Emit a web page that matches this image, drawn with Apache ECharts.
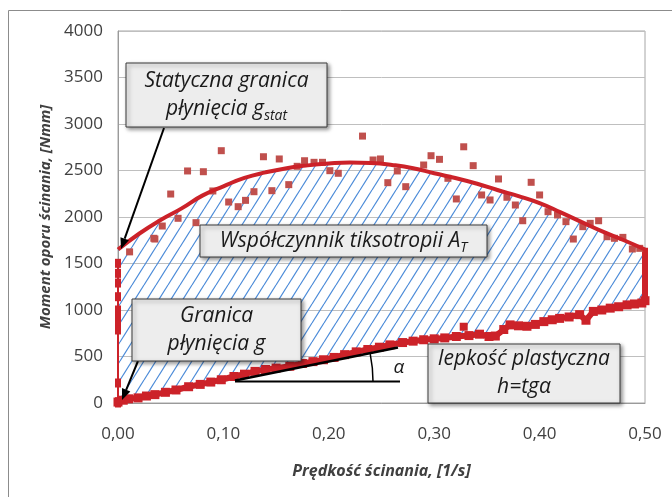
<!DOCTYPE html>
<html><head><meta charset="utf-8">
<script src="https://cdn.jsdelivr.net/npm/echarts@6/dist/echarts.min.js"></script>
<style>html,body{margin:0;padding:0;background:#fff}#c{width:672px;height:497px}</style>
</head><body><div id="c"></div>
<script>
// ---- data ----
const xTicks = [0, 0.1, 0.2, 0.3, 0.4, 0.5];
const yTicks = [0, 500, 1000, 1500, 2000, 2500, 3000, 3500, 4000];
const upperFitX = [0,0.02,0.04,0.06,0.08,0.10,0.12,0.14,0.16,0.18,0.20,0.22,0.24,0.26,0.28,0.30,0.32,0.34,0.36,0.38,0.40,0.42,0.44,0.46,0.48,0.50];
const upperFitY = [1650,1820,1965,2090,2230,2330,2420,2480,2525,2555,2575,2585,2580,2560,2525,2470,2420,2360,2290,2225,2150,2050,1945,1842,1750,1650];
const upperPtsX = [0.011,0.034,0.035,0.042,0.050,0.057,0.066,0.074,0.081,0.090,0.098,0.105,0.114,0.121,0.129,0.138,0.146,0.153,0.162,0.170,0.177,0.186,0.194,0.201,0.209,0.232,0.242,0.249,0.256,0.265,0.273,0.290,0.297,0.305,0.313,0.321,0.328,0.337,0.345,0.353,0.361,0.369,0.377,0.384,0.392,0.400,0.408,0.417,0.425,0.432,0.441,0.448,0.456,0.464,0.471,0.479,0.488,0.495];
const upperPtsY = [1625,1771,1763,1903,2247,1986,2495,1939,2487,2280,2713,2161,2111,2179,2272,2648,2283,2624,2348,2545,2605,2588,2588,2498,2470,2870,2613,2624,2369,2495,2326,2559,2659,2620,2416,2194,2755,2552,2237,2183,2409,2212,2129,1960,2373,2237,2057,2022,1950,1763,1896,1932,1960,1788,1771,1781,1656,1663];
const lowerX = [0.000,0.005,0.010,0.019,0.027,0.035,0.045,0.055,0.067,0.078,0.088,0.098,0.110,0.120,0.130,0.140,0.150,0.163,0.175,0.185,0.195,0.205,0.215,0.226,0.237,0.248,0.258,0.270,0.280,0.290,0.300,0.310,0.321,0.333,0.343,0.352,0.358,0.366,0.372,0.380,0.388,0.396,0.404,0.412,0.419,0.428,0.438,0.444,0.451,0.459,0.467,0.475,0.483,0.490,0.497,0.500];
const lowerY = [10,30,45,55,75,90,115,140,175,200,225,250,285,310,340,360,375,395,425,445,465,490,520,550,575,600,625,650,665,680,690,700,715,725,740,715,720,790,840,830,825,845,875,895,910,925,950,890,985,1000,1020,1035,1055,1065,1075,1100];
const outlierLower = [[0.328, 820]];
const leftEdgeY = [0, 14, 215, 785, 830, 880, 935, 1000, 1143, 1290, 1394, 1502];
const rightEdgeY = [1100, 1200, 1300, 1400, 1500, 1600, 1670];

const RED = '#cc2229', DOT = '#c0504d', TXT = '#404040';
const FONT = '"Open Sans", sans-serif';

// hatch pattern
const pc = document.createElement('canvas');
pc.width = 12; pc.height = 19;
const g = pc.getContext('2d');
g.strokeStyle = '#4a8ad8'; g.lineWidth = 1.2;
for (const o of [-12, 0, 12]) { g.beginPath(); g.moveTo(o, 19); g.lineTo(o + 12, 0); g.stroke(); }

const chart = echarts.init(document.getElementById('c'), null, {renderer: 'canvas'});

const upperFit = upperFitX.map((x, i) => [x, upperFitY[i]]);
const upperPts = upperPtsX.map((x, i) => [x, upperPtsY[i]]);
const lowerPts = lowerX.map((x, i) => [x, lowerY[i]]);

const BOXFONT = 'italic 21px ' + FONT;
function box(x, y, w, h, text, lh) {
  return [
      {type: 'rect', z: 100, shape: {x: x, y: y, width: w, height: h},
       style: {fill: '#ededed', stroke: '#3a3a3a', lineWidth: 1, shadowBlur: 4, shadowOffsetX: 2, shadowOffsetY: 2, shadowColor: 'rgba(0,0,0,0.45)'}},
      {type: 'text', z: 101, x: x + w / 2, y: y + h / 2,
       style: {text: text, align: 'center', verticalAlign: 'middle', font: BOXFONT, fill: '#1a1a1a', lineHeight: lh,
         rich: {
           s: {font: 'italic 14px ' + FONT, fill: '#1a1a1a', verticalAlign: 'bottom', lineHeight: 18},
           n: {font: BOXFONT, fill: '#1a1a1a', lineHeight: lh}
         }}}
  ];
}
function arrow(x1, y1, x2, y2) {
  const a = Math.atan2(y2 - y1, x2 - x1), L = 11, W = 4.5;
  const bx = x2 - L * Math.cos(a), by = y2 - L * Math.sin(a);
  return [
    {type: 'line', z: 90, shape: {x1: x1, y1: y1, x2: bx, y2: by}, style: {stroke: '#000', lineWidth: 2}},
    {type: 'polygon', z: 90, shape: {points: [[x2, y2], [bx - W * Math.sin(a), by + W * Math.cos(a)], [bx + W * Math.sin(a), by - W * Math.cos(a)]]}, style: {fill: '#000'}}
  ];
}

chart.setOption({
  animation: false,
  grid: {left: 118, right: 27, top: 31, bottom: 94, show: true, borderColor: '#a6a6a6', borderWidth: 1},
  xAxis: {
    type: 'value', min: 0, max: 0.5, interval: 0.1,
    name: 'Prędkość ścinania, [1/s]', nameLocation: 'middle', nameGap: 60,
    nameTextStyle: {fontFamily: FONT, fontSize: 16, fontStyle: 'italic', fontWeight: 'bold', color: TXT},
    axisLine: {lineStyle: {color: '#9a9a9a'}}, axisTick: {show: false},
    axisLabel: {fontFamily: FONT, fontSize: 17, color: TXT, margin: 23, formatter: v => v.toFixed(2).replace('.', ',')},
    splitLine: {show: false}
  },
  yAxis: {
    type: 'value', min: 0, max: 4000, interval: 500,
    name: 'Moment oporu ścinania, [Nmm]', nameLocation: 'middle', nameGap: 62,
    nameTextStyle: {fontFamily: FONT, fontSize: 15, fontStyle: 'italic', fontWeight: 'bold', color: TXT},
    axisLine: {show: true, lineStyle: {color: '#9a9a9a'}}, axisTick: {show: false},
    axisLabel: {fontFamily: FONT, fontSize: 17, color: TXT, margin: 15, formatter: v => String(v)},
    splitLine: {lineStyle: {color: '#bfbfbf'}}
  },
  series: [
    {
      type: 'custom', z: 1, silent: true, data: [0],
      renderItem: function (params, api) {
        const pts = upperFit.map(p => api.coord(p));
        for (let i = lowerPts.length - 1; i >= 0; i--) pts.push(api.coord(lowerPts[i]));
        return {type: 'polygon', shape: {points: pts}, style: {fill: {image: pc, repeat: 'repeat'}, stroke: null}};
      }
    },
    {type: 'line', z: 3, data: [[0, 0], [0, 1502]], symbol: 'none', lineStyle: {color: RED, width: 2}},
    {type: 'scatter', z: 4, data: leftEdgeY.map(y => [0, y]), symbol: 'rect', symbolSize: [6, 9], itemStyle: {color: RED, opacity: 1}},
    {type: 'line', z: 3, data: rightEdgeY.map(y => [0.5, y]), symbol: 'none', lineStyle: {color: RED, width: 6}},
    {type: 'line', z: 3, data: lowerPts, symbol: 'rect', symbolSize: 9, itemStyle: {color: RED}, lineStyle: {color: RED, width: 6}},
    {type: 'scatter', z: 4, data: outlierLower, symbol: 'rect', symbolSize: 8, itemStyle: {color: RED, opacity: 1}},
    {type: 'scatter', z: 4, data: upperPts, symbol: 'rect', symbolSize: 7, itemStyle: {color: DOT, opacity: 1}},
    {type: 'line', z: 5, data: upperFit, smooth: true, symbol: 'none', lineStyle: {color: RED, width: 4}}
  ],
  graphic: [
    {type: 'rect', z: 0, shape: {x: 8.5, y: 10.5, width: 700, height: 600}, style: {fill: null, stroke: '#8c8c8c', lineWidth: 1}},
    ...box(126, 63, 201, 64, 'Statyczna granica\npłynięcia g{s|stat}', 28),
    ...box(200, 225, 287, 32, 'Współczynnik tiksotropii A{s|T}', 28),
    ...box(132, 299, 169, 62, 'Granica\npłynięcia g', 28),
    ...box(428, 344, 192, 59, 'lepkość plastyczna\nh=tgα', 28),
    ...arrow(164, 128, 121, 249),
    ...arrow(138, 361, 122, 400),
    {type: 'line', z: 90, shape: {x1: 235, y1: 380.5, x2: 398, y2: 347.5}, style: {stroke: '#000', lineWidth: 2.5}},
    {type: 'line', z: 90, shape: {x1: 235, y1: 381.5, x2: 400, y2: 381.5}, style: {stroke: '#000', lineWidth: 2}},
    {type: 'arc', z: 90, shape: {cx: 235, cy: 381.5, r: 138, startAngle: -0.2, endAngle: 0, clockwise: true}, style: {stroke: '#000', lineWidth: 1.5, fill: null}},
    {type: 'text', z: 90, x: 399, y: 368, style: {text: 'α', font: 'italic 19px ' + FONT, fill: '#1a1a1a', align: 'center', verticalAlign: 'middle'}}
  ]
});
</script></body></html>
